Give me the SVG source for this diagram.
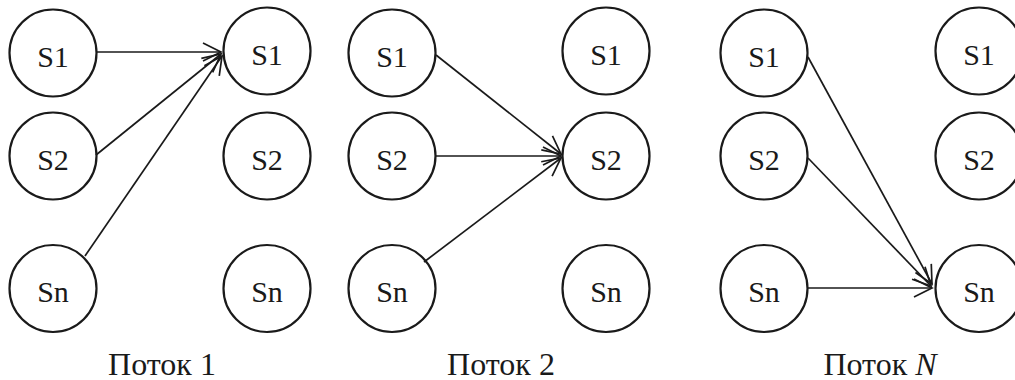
<svg xmlns="http://www.w3.org/2000/svg" width="1015" height="380" viewBox="0 0 1015 380">
  <style>
    .node circle { fill: #ffffff; stroke: #1a1a1a; stroke-width: 2.2; }
    .node text { font-family: 'Liberation Serif', 'DejaVu Serif', serif; font-size: 30px; fill: #1a1a1a; text-anchor: middle; }
    .edges line { stroke: #1a1a1a; stroke-width: 1.7; fill: none; marker-end: url(#open-arrow); }
    .caption { font-family: 'Liberation Serif', 'DejaVu Serif', serif; font-size: 32px; fill: #1a1a1a; text-anchor: middle; }
  </style>
  <defs>
    <marker id="open-arrow" markerUnits="userSpaceOnUse" viewBox="-22 -11 24 22" refX="0" refY="0" markerWidth="24" markerHeight="22" orient="auto">
      <path d="M-18,-9 L0,0 L-18,9" fill="none" stroke="#1a1a1a" stroke-width="1.7"/>
    </marker>
  </defs>
  <rect width="1015" height="380" fill="#ffffff"/>

  <!-- Flow 1 -->
  <g id="f1-src-s1" class="node"><circle cx="53" cy="53" r="43.5"/><text x="53" y="67">S1</text></g>
  <g id="f1-src-s2" class="node"><circle cx="53" cy="156" r="43.5"/><text x="53" y="170">S2</text></g>
  <g id="f1-src-sn" class="node"><circle cx="53" cy="288.5" r="43.5"/><text x="53" y="302">Sn</text></g>
  <g id="f1-dst-s1" class="node"><circle cx="267" cy="51" r="43.5"/><text x="267" y="65">S1</text></g>
  <g id="f1-dst-s2" class="node"><circle cx="267" cy="156" r="43.5"/><text x="267" y="170">S2</text></g>
  <g id="f1-dst-sn" class="node"><circle cx="267" cy="288.5" r="43.5"/><text x="267" y="302">Sn</text></g>

  <!-- Flow 2 -->
  <g id="f2-src-s1" class="node"><circle cx="392" cy="53" r="43.5"/><text x="392" y="67">S1</text></g>
  <g id="f2-src-s2" class="node"><circle cx="392" cy="156" r="43.5"/><text x="392" y="170">S2</text></g>
  <g id="f2-src-sn" class="node"><circle cx="392" cy="288.5" r="43.5"/><text x="392" y="302">Sn</text></g>
  <g id="f2-dst-s1" class="node"><circle cx="606" cy="51" r="43.5"/><text x="606" y="65">S1</text></g>
  <g id="f2-dst-s2" class="node"><circle cx="606" cy="156" r="43.5"/><text x="606" y="170">S2</text></g>
  <g id="f2-dst-sn" class="node"><circle cx="606" cy="288.5" r="43.5"/><text x="606" y="302">Sn</text></g>

  <!-- Flow N -->
  <g id="fn-src-s1" class="node"><circle cx="764" cy="53" r="43.5"/><text x="764" y="67">S1</text></g>
  <g id="fn-src-s2" class="node"><circle cx="764" cy="156" r="43.5"/><text x="764" y="170">S2</text></g>
  <g id="fn-src-sn" class="node"><circle cx="764" cy="288.5" r="43.5"/><text x="764" y="302">Sn</text></g>
  <g id="fn-dst-s1" class="node"><circle cx="979" cy="51" r="43.5"/><text x="979" y="65">S1</text></g>
  <g id="fn-dst-s2" class="node"><circle cx="979" cy="156" r="43.5"/><text x="979" y="170">S2</text></g>
  <g id="fn-dst-sn" class="node"><circle cx="979" cy="288.5" r="43.5"/><text x="979" y="302">Sn</text></g>

  <!-- Connectors -->
  <g id="connectors" class="edges">
    <line x1="97" y1="52" x2="221" y2="52"/>
    <line x1="96" y1="155" x2="221" y2="54"/>
    <line x1="85" y1="256" x2="222" y2="56"/>

    <line x1="436" y1="55" x2="561" y2="154"/>
    <line x1="436" y1="156" x2="561" y2="156"/>
    <line x1="424" y1="262" x2="561" y2="158"/>

    <line x1="808" y1="57" x2="932" y2="284"/>
    <line x1="808" y1="158" x2="931" y2="286"/>
    <line x1="808" y1="288" x2="932" y2="288"/>
  </g>

  <!-- Captions -->
  <text class="caption" x="162" y="375">Поток 1</text>
  <text class="caption" x="501" y="375">Поток 2</text>
  <text class="caption" x="880" y="375">Поток <tspan font-style="italic">N</tspan></text>
</svg>
